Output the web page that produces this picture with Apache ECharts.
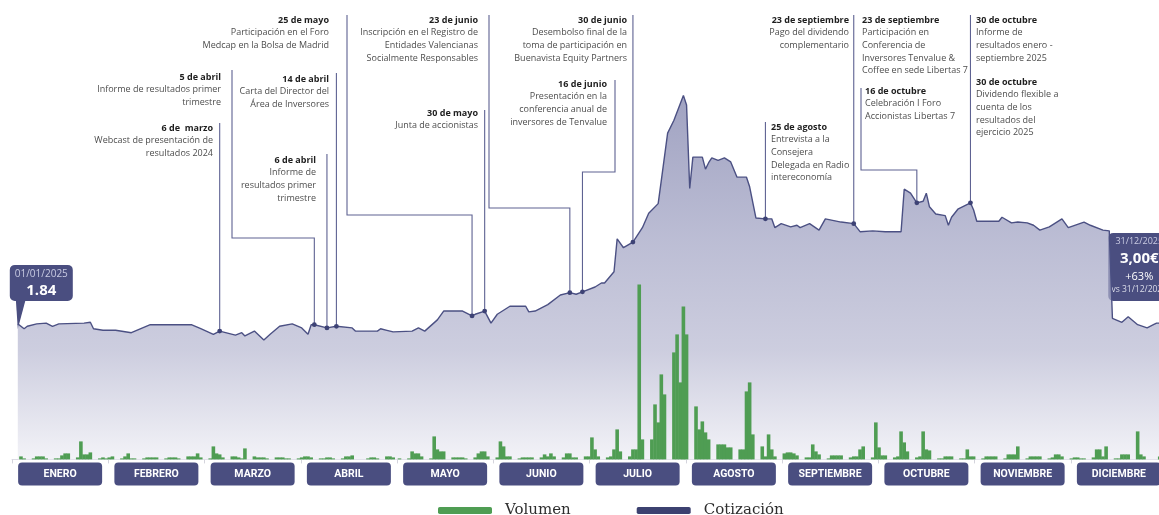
<!DOCTYPE html>
<html lang="es">
<head>
<meta charset="utf-8">
<title>Cotización y volumen 2025</title>
<script src="https://cdn.jsdelivr.net/npm/echarts@6/dist/echarts.min.js"></script>
<style>
  html, body { margin: 0; padding: 0; background: #fff; overflow: hidden; }
  #chart { width: 1159px; height: 515px; }
</style>
</head>
<body>
<div id="chart"></div>
<script>
/*
 * Cotización diaria 2025 (área) + volumen negociado (barras)
 * con los hitos corporativos anotados sobre la curva.
 */

const MONTHS = ["ENERO", "FEBRERO", "MARZO", "ABRIL", "MAYO", "JUNIO",
  "JULIO", "AGOSTO", "SEPTIEMBRE", "OCTUBRE", "NOVIEMBRE", "DICIEMBRE"];

/* Cotización (€) */
const priceDates = [
  "2025-01-01", "2025-01-03", "2025-01-04", "2025-01-07", "2025-01-10", "2025-01-12",
  "2025-01-14", "2025-01-22", "2025-01-24", "2025-01-25", "2025-01-28", "2025-02-01",
  "2025-02-06", "2025-02-12", "2025-02-25", "2025-02-28", "2025-03-04", "2025-03-06",
  "2025-03-11", "2025-03-13", "2025-03-14", "2025-03-17", "2025-03-20", "2025-03-22",
  "2025-03-25", "2025-03-29", "2025-04-01", "2025-04-03", "2025-04-04", "2025-04-05",
  "2025-04-09", "2025-04-12", "2025-04-17", "2025-04-18", "2025-04-25", "2025-04-26",
  "2025-04-28", "2025-04-30", "2025-05-06", "2025-05-08", "2025-05-10", "2025-05-14",
  "2025-05-16", "2025-05-22", "2025-05-25", "2025-05-26", "2025-05-29", "2025-05-31",
  "2025-06-02", "2025-06-06", "2025-06-11", "2025-06-12", "2025-06-14", "2025-06-18",
  "2025-06-22", "2025-06-25", "2025-06-27", "2025-06-29", "2025-07-03", "2025-07-05",
  "2025-07-06", "2025-07-09", "2025-07-10", "2025-07-12", "2025-07-15", "2025-07-18",
  "2025-07-20", "2025-07-23", "2025-07-24", "2025-07-26", "2025-07-28", "2025-07-31",
  "2025-08-01", "2025-08-02", "2025-08-03", "2025-08-06", "2025-08-07", "2025-08-08",
  "2025-08-09", "2025-08-11", "2025-08-13", "2025-08-15", "2025-08-17", "2025-08-20",
  "2025-08-21", "2025-08-23", "2025-08-26", "2025-08-28", "2025-08-29", "2025-08-31",
  "2025-09-03", "2025-09-05", "2025-09-06", "2025-09-09", "2025-09-12", "2025-09-14",
  "2025-09-19", "2025-09-23", "2025-09-25", "2025-09-29", "2025-10-03", "2025-10-08",
  "2025-10-09", "2025-10-11", "2025-10-13", "2025-10-15", "2025-10-16", "2025-10-17",
  "2025-10-19", "2025-10-22", "2025-10-23", "2025-10-24", "2025-10-26", "2025-10-30",
  "2025-10-31", "2025-11-01", "2025-11-08", "2025-11-09", "2025-11-12", "2025-11-14",
  "2025-11-17", "2025-11-19", "2025-11-21", "2025-11-24", "2025-11-28", "2025-11-30",
  "2025-12-05", "2025-12-07", "2025-12-11", "2025-12-13", "2025-12-14", "2025-12-17",
  "2025-12-19", "2025-12-22", "2025-12-25", "2025-12-27", "2025-12-28", "2025-12-31"
];
const priceValues = [
  1.84, 1.78, 1.81, 1.84, 1.85, 1.81,
  1.84, 1.85, 1.86, 1.78, 1.76, 1.76,
  1.73, 1.83, 1.83, 1.78, 1.71, 1.75,
  1.70, 1.73, 1.69, 1.75, 1.64, 1.71,
  1.81, 1.84, 1.79, 1.71, 1.83, 1.83,
  1.79, 1.81, 1.79, 1.75, 1.75, 1.78,
  1.76, 1.74, 1.75, 1.79, 1.75, 1.89,
  2.00, 2.00, 1.94, 1.96, 2.00, 1.85,
  1.96, 2.06, 2.06, 1.99, 2.00, 2.08,
  2.20, 2.23, 2.21, 2.24, 2.30, 2.35,
  2.35, 2.49, 2.90, 2.79, 2.86, 3.04,
  3.22, 3.34, 3.63, 4.22, 4.38, 4.69,
  4.57, 3.53, 3.92, 3.92, 3.77, 3.85,
  3.91, 3.88, 3.91, 3.86, 3.67, 3.67,
  3.55, 3.16, 3.15, 3.15, 3.04, 3.09,
  3.05, 3.07, 3.04, 3.09, 3.01, 3.15,
  3.11, 3.09, 2.99, 3.00, 2.99, 2.99,
  3.52, 3.47, 3.35, 3.37, 3.47, 3.30,
  3.21, 3.19, 3.07, 3.17, 3.27, 3.35,
  3.26, 3.12, 3.12, 3.17, 3.10, 3.11,
  3.10, 3.07, 3.01, 3.05, 3.15, 3.04,
  3.11, 3.07, 3.01, 3.00, 1.91, 1.86,
  1.93, 1.83, 1.79, 1.83, 1.85, 1.85
];

/* Volumen diario (miles de acciones): [día del mes, volumen] */
const volEne = [[2, 3], [3, 1], [6, 1], [7, 3], [8, 3], [9, 3], [10, 1], [13, 1], [14, 1], [15, 4], [16, 6], [17, 6],
  [20, 2], [21, 18], [22, 5], [23, 5], [24, 7], [27, 1], [28, 2], [29, 1], [30, 2], [31, 3]];
const volFeb = [[3, 1], [4, 3], [5, 6], [6, 1], [7, 1], [10, 1], [11, 2], [12, 2], [13, 2], [14, 2], [17, 1], [18, 2],
  [19, 2], [20, 2], [21, 1], [24, 3], [25, 3], [26, 3], [27, 6], [28, 2]];
const volMar = [[3, 1], [4, 13], [5, 6], [6, 5], [7, 2], [10, 3], [11, 3], [12, 2], [13, 1], [14, 11], [17, 3], [18, 2],
  [19, 2], [20, 2], [21, 1], [24, 2], [25, 2], [26, 2], [27, 1], [28, 1], [31, 1]];
const volAbr = [[1, 2], [2, 3], [3, 3], [4, 2], [7, 1], [8, 1], [9, 2], [10, 2], [11, 1], [14, 1], [15, 3], [16, 3],
  [17, 4], [22, 1], [23, 2], [24, 2], [25, 1], [28, 3], [29, 3], [30, 2]];
const volMay = [[2, 1], [5, 1], [6, 8], [7, 6], [8, 6], [9, 3], [12, 1], [13, 23], [14, 10], [15, 8], [16, 8], [19, 2],
  [20, 2], [21, 2], [22, 2], [23, 1], [26, 2], [27, 6], [28, 8], [29, 8], [30, 3]];
const volJun = [[2, 2], [3, 18], [4, 13], [5, 3], [6, 3], [9, 1], [10, 2], [11, 2], [12, 2], [13, 2], [16, 2], [17, 5],
  [18, 3], [19, 6], [20, 3], [23, 2], [24, 6], [25, 6], [26, 2], [27, 2], [30, 3]];
const volJul = [[1, 3], [2, 22], [3, 10], [4, 3], [7, 2], [8, 3], [9, 10], [10, 30], [11, 8], [14, 3], [15, 10], [16, 10],
  [17, 175], [18, 20], [21, 20], [22, 55], [23, 37], [24, 85], [25, 65], [28, 107], [29, 125], [30, 77], [31, 153]];
const volAgo = [[1, 125], [4, 53], [5, 30], [6, 38], [7, 27], [8, 20], [11, 15], [12, 15], [13, 15], [14, 12], [15, 12],
  [18, 10], [19, 10], [20, 68], [21, 77], [22, 25], [25, 13], [26, 3], [27, 25], [28, 10], [29, 3]];
const volSep = [[1, 6], [2, 7], [3, 7], [4, 6], [5, 4], [8, 2], [9, 2], [10, 15], [11, 8], [12, 5], [15, 1], [16, 4],
  [17, 4], [18, 4], [19, 4], [22, 2], [23, 3], [24, 3], [25, 10], [26, 13], [29, 2], [30, 37]];
const volOct = [[1, 12], [2, 4], [3, 4], [6, 2], [7, 3], [8, 28], [9, 17], [10, 8], [13, 2], [14, 3], [15, 28], [16, 10],
  [17, 9], [20, 1], [21, 1], [22, 3], [23, 3], [24, 3], [27, 1], [28, 1], [29, 10], [30, 3], [31, 3]];
const volNov = [[3, 1], [4, 3], [5, 3], [6, 3], [7, 3], [10, 1], [11, 5], [12, 5], [13, 5], [14, 13], [17, 1], [18, 3],
  [19, 3], [20, 3], [21, 3], [24, 1], [25, 2], [26, 5], [27, 5], [28, 3]];
const volDic = [[1, 1], [2, 2], [3, 2], [4, 1], [5, 1], [8, 2], [9, 10], [10, 10], [11, 3], [12, 13], [15, 1], [16, 1],
  [17, 5], [18, 5], [19, 5], [22, 28], [23, 5], [24, 3], [29, 3], [30, 3], [31, 2]];

/* Hitos corporativos */
const eventDates = ["2025-03-06", "2025-04-05", "2025-04-12", "2025-04-09", "2025-05-25", "2025-05-29",
  "2025-06-25", "2025-06-29", "2025-07-15", "2025-08-26", "2025-09-23", "2025-09-23",
  "2025-10-13", "2025-10-30", "2025-10-30"];
const eventTitles = ["6 de  marzo", "5 de abril", "14 de abril", "6 de abril", "25 de mayo", "30 de mayo",
  "23 de junio", "16 de junio", "30 de junio", "25 de agosto", "23 de septiembre", "23 de septiembre",
  "16 de octubre", "30 de octubre", "30 de octubre"];
const eventTexts = [
  ["Webcast de presentación de", "resultados 2024"],
  ["Informe de resultados primer", "trimestre"],
  ["Carta del Director del", "Área de Inversores"],
  ["Informe de", "resultados primer", "trimestre"],
  ["Participación en el Foro", "Medcap en la Bolsa de Madrid"],
  ["Junta de accionistas"],
  ["Inscripción en el Registro de", "Entidades Valencianas", "Socialmente Responsables"],
  ["Presentación en la", "conferencia anual de", "inversores de Tenvalue"],
  ["Desembolso final de la", "toma de participación en", "Buenavista Equity Partners"],
  ["Entrevista a la", "Consejera", "Delegada en Radio", "intereconomía"],
  ["Pago del dividendo", "complementario"],
  ["Participación en", "Conferencia de", "Inversores Tenvalue &", "Coffee en sede Libertas 7"],
  ["Celebración I Foro", "Accionistas Libertas 7"],
  ["Informe de", "resultados enero -", "septiembre 2025"],
  ["Dividendo flexible a", "cuenta de los", "resultados del", "ejercicio 2025"]
];

/* Cierre del ejercicio */
const closeLabelDate = "2025-12-13";
const closePrice = 3.00;
const startLabel = "01/01/2025";
const endLabel = "31/12/2025";
const compareLabel = "vs 31/12/2024";

/* ---- Layout (pixels) ---- */
const NAVY = "#4a4e80";
const GREEN = "#4f9d53";
const TEXT_FONT = "'Open Sans', 'DejaVu Sans', sans-serif";

/* text anchor + connector route for each hito */
const eventLayout = [
  { x: 213, y: 122, align: "right", line: { top: 123 } },
  { x: 221, y: 71, align: "right", line: { x: 232, top: 70, elbow: 238 } },
  { x: 329, y: 73, align: "right", line: { top: 73 } },
  { x: 316, y: 154, align: "right", line: { top: 154 } },
  { x: 329, y: 14, align: "right", line: { x: 347, top: 15, elbow: 215 } },
  { x: 478, y: 107, align: "right", line: { top: 110 } },
  { x: 478, y: 14, align: "right", line: { x: 489, top: 15, elbow: 208 } },
  { x: 607, y: 78, align: "right", line: { x: 615, top: 80, elbow: 172 } },
  { x: 627, y: 14, align: "right", line: { top: 15 } },
  { x: 771, y: 121, align: "left", line: { top: 122 } },
  { x: 849, y: 14, align: "right", line: { top: 15 } },
  { x: 862, y: 14, align: "left", line: null },
  { x: 865, y: 85, align: "left", line: { x: 861, top: 88, elbow: 170 } },
  { x: 976, y: 14, align: "left", line: { top: 15 } },
  { x: 976, y: 76, align: "left", line: null }
];

function priceAt(date) {
  return priceValues[priceDates.indexOf(date)];
}

const volumeMonths = [volEne, volFeb, volMar, volAbr, volMay, volJun, volJul, volAgo, volSep, volOct, volNov, volDic];
const volumeData = [];
volumeMonths.forEach(function (list, m) {
  list.forEach(function (d) {
    const mm = String(m + 1).padStart(2, "0");
    const dd = String(d[0]).padStart(2, "0");
    volumeData.push(["2025-" + mm + "-" + dd, d[1]]);
  });
});

const priceData = priceDates.map(function (d, i) { return [d, priceValues[i]]; });
const eventData = eventDates.map(function (d) { return [d, priceAt(d)]; });

function renderEvent(params, api) {
  const i = params.dataIndex;
  const L = eventLayout[i];
  const p = api.coord([api.value(0), api.value(1)]);
  const children = [];

  if (L.line) {
    const lx = L.line.x == null ? p[0] : L.line.x;
    const pts = [[lx, L.line.top]];
    if (L.line.elbow != null) {
      pts.push([lx, L.line.elbow]);
      pts.push([p[0], L.line.elbow]);
    }
    pts.push([p[0], p[1]]);
    children.push({
      type: "polyline",
      shape: { points: pts },
      style: { stroke: "#5e6292", lineWidth: 1.1, fill: null }
    });
    children.push({
      type: "circle",
      shape: { cx: p[0], cy: p[1], r: 2.4 },
      style: { fill: "#3d4275" }
    });
  }

  children.push({
    type: "text",
    x: L.x,
    y: L.y,
    style: {
      text: eventTitles[i],
      fontFamily: TEXT_FONT,
      fontSize: 9,
      fontWeight: "bold",
      fill: "#1e1e1e",
      align: L.align,
      verticalAlign: "top",
      lineHeight: 12.5
    }
  });
  children.push({
    type: "text",
    x: L.x,
    y: L.y + 12.5,
    style: {
      text: eventTexts[i].join("\n"),
      fontFamily: TEXT_FONT,
      fontSize: 9,
      fill: "#4d4d4d",
      align: L.align,
      verticalAlign: "top",
      lineHeight: 12.6
    }
  });

  return { type: "group", children: children };
}

const chart = echarts.init(document.getElementById("chart"), null, { renderer: "canvas" });

chart.setOption({
  animation: false,
  backgroundColor: "#ffffff",
  grid: [
    /* price + volume */
    { left: 16, top: 14.4, width: 1155, height: 445, outerBoundsMode: "none", containLabel: false },
    /* month buttons */
    { left: 12, top: 14.4, width: 1155, height: 445, outerBoundsMode: "none", containLabel: false }
  ],
  xAxis: [
    {
      type: "time",
      gridIndex: 0,
      position: "top",
      min: "2025-01-01",
      max: "2026-01-01",
      show: false
    },
    {
      type: "category",
      gridIndex: 1,
      position: "bottom",
      data: MONTHS,
      boundaryGap: true,
      axisLine: { show: true, lineStyle: { color: "#dcdce4", width: 1 } },
      axisTick: { show: true, length: 4, lineStyle: { color: "#d4d4dc" } },
      axisLabel: {
        interval: 0,
        margin: 3,
        color: "#ffffff",
        fontFamily: "Roboto, 'DejaVu Sans', sans-serif",
        fontWeight: "bold",
        fontSize: 10.5,
        backgroundColor: NAVY,
        borderRadius: 4,
        width: 84,
        align: "center",
        padding: [6, 0, 6, 0]
      }
    }
  ],
  yAxis: [
    { type: "value", gridIndex: 0, min: 0.15, max: 5.7, show: false },
    { type: "value", gridIndex: 0, min: 0, max: 445, show: false, position: "right" },
    { type: "value", gridIndex: 1, min: 0, max: 1, show: false }
  ],
  legend: {
    left: 433,
    top: 498,
    icon: "roundRect",
    itemWidth: 54,
    itemHeight: 7,
    itemGap: 66,
    selectedMode: false,
    textStyle: {
      fontFamily: "'DejaVu Serif', serif",
      fontSize: 15,
      color: "#2e2e2e",
      padding: [0, 0, 0, 8]
    },
    data: [
      { name: "Volumen", itemStyle: { color: GREEN, borderWidth: 0 } },
      { name: "Cotización", itemStyle: { color: "#3c4170", borderWidth: 0 } }
    ]
  },
  series: [
    {
      name: "Cotización",
      type: "line",
      xAxisIndex: 0,
      yAxisIndex: 0,
      data: priceData,
      showSymbol: false,
      z: 2,
      lineStyle: { color: "#4b5083", width: 1.4 },
      itemStyle: { color: "#3c4170" },
      areaStyle: {
        origin: "start",
        color: new echarts.graphic.LinearGradient(0, 0, 0, 1, [
          { offset: 0, color: "#787ba7" },
          { offset: 0.4, color: "#9fa1c2" },
          { offset: 0.7, color: "#b7b8d1" },
          { offset: 1, color: "#ededf4" }
        ])
      }
    },
    {
      name: "Volumen",
      type: "bar",
      xAxisIndex: 0,
      yAxisIndex: 1,
      data: volumeData,
      barWidth: 3.6,
      z: 3,
      itemStyle: { color: GREEN }
    },
    {
      name: "Hitos",
      type: "custom",
      xAxisIndex: 0,
      yAxisIndex: 0,
      data: eventData,
      renderItem: renderEvent,
      clip: false,
      z: 5,
      silent: true
    }
  ]
});

/* Etiquetas de apertura y cierre, ancladas a sus puntos */
const pStart = chart.convertToPixel({ xAxisIndex: 0, yAxisIndex: 0 }, priceData[0]);
const pEnd = chart.convertToPixel({ xAxisIndex: 0, yAxisIndex: 0 }, [closeLabelDate, priceAt(closeLabelDate)]);
const startBox = { x: pStart[0] - 8, y: pStart[1] - 59, w: 63, h: 36 };
const endBox = { x: pEnd[0] - 1, y: pEnd[1] + 2, w: 62, h: 68 };
const changePct = Math.round((closePrice / priceValues[0] - 1) * 100);

chart.setOption({
  graphic: [
    {
      type: "group",
      z: 20,
      children: [
        {
          type: "polygon",
          shape: { points: [[pStart[0] - 2, startBox.y + startBox.h - 2], [pStart[0] + 8, startBox.y + startBox.h - 2], [pStart[0], pStart[1] + 5]] },
          style: { fill: NAVY }
        },
        {
          type: "rect",
          shape: { x: startBox.x, y: startBox.y, width: startBox.w, height: startBox.h, r: 5 },
          style: { fill: NAVY }
        },
        {
          type: "text",
          x: startBox.x + startBox.w / 2,
          y: startBox.y + 9,
          style: { text: startLabel, fontFamily: TEXT_FONT, fontSize: 10, fill: "#c9cbe2", align: "center", verticalAlign: "middle" }
        },
        {
          type: "text",
          x: startBox.x + startBox.w / 2,
          y: startBox.y + 26,
          style: { text: priceValues[0].toFixed(2), fontFamily: TEXT_FONT, fontSize: 15, fontWeight: "bold", fill: "#ffffff", align: "center", verticalAlign: "middle" }
        }
      ]
    },
    {
      type: "group",
      z: 20,
      children: [
        {
          type: "rect",
          shape: { x: endBox.x, y: endBox.y, width: endBox.w, height: endBox.h, r: 5 },
          style: { fill: NAVY }
        },
        {
          type: "text",
          x: endBox.x + endBox.w / 2,
          y: endBox.y + 9,
          style: { text: endLabel, fontFamily: TEXT_FONT, fontSize: 9, fill: "#c9cbe2", align: "center", verticalAlign: "middle" }
        },
        {
          type: "text",
          x: endBox.x + endBox.w / 2,
          y: endBox.y + 26,
          style: { text: closePrice.toFixed(2).replace(".", ",") + "€", fontFamily: TEXT_FONT, fontSize: 15, fontWeight: "bold", fill: "#ffffff", align: "center", verticalAlign: "middle" }
        },
        {
          type: "text",
          x: endBox.x + endBox.w / 2,
          y: endBox.y + 44,
          style: { text: "+" + changePct + "%", fontFamily: TEXT_FONT, fontSize: 11, fill: "#ffffff", align: "center", verticalAlign: "middle" }
        },
        {
          type: "text",
          x: endBox.x + endBox.w / 2,
          y: endBox.y + 57,
          style: { text: compareLabel, fontFamily: TEXT_FONT, fontSize: 8.5, fill: "#dcdeea", align: "center", verticalAlign: "middle" }
        }
      ]
    }
  ]
});
</script>
</body>
</html>
